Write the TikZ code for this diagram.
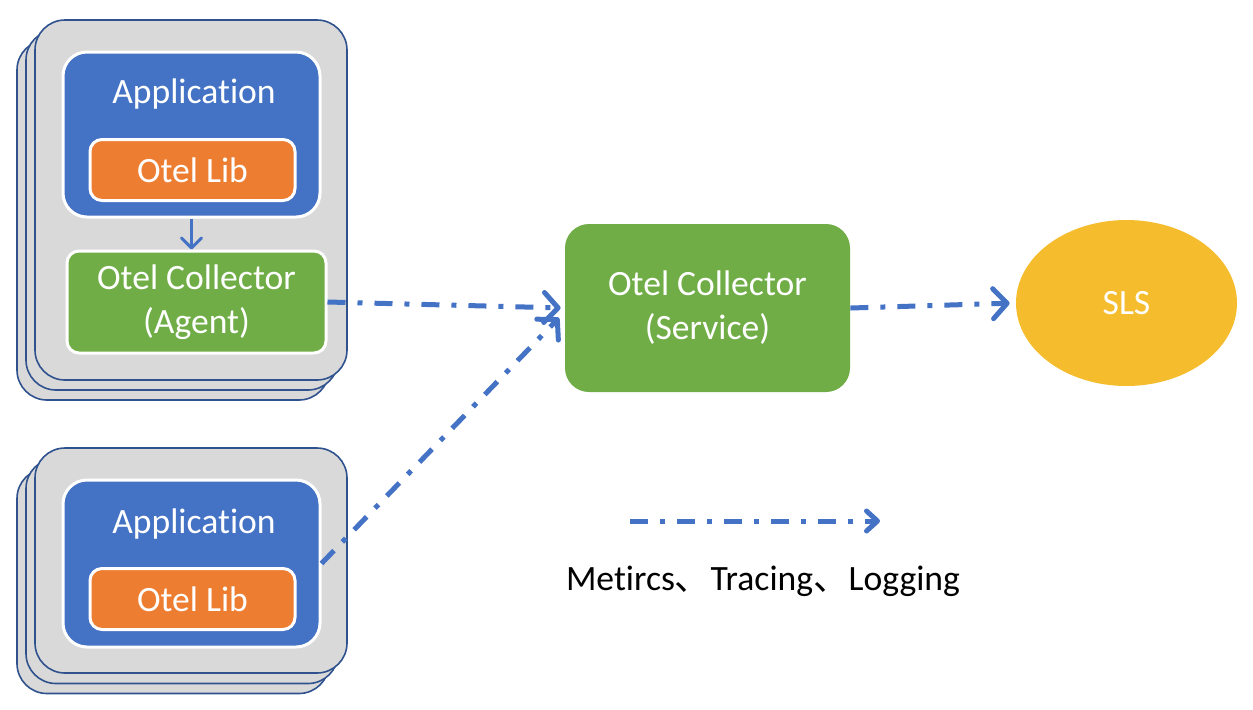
\documentclass[tikz,border=0pt]{standalone}
\usepackage{fontspec}
\setmainfont{Carlito}[Ligatures=NoCommon]
\newfontfamily\cjk{Noto Sans CJK SC}
\usetikzlibrary{arrows.meta,shapes.geometric}
\definecolor{appblue}{HTML}{4472C4}
\definecolor{cardedge}{HTML}{2F528F}
\definecolor{cardgray}{HTML}{D9D9D9}
\definecolor{liborange}{HTML}{ED7D31}
\definecolor{colgreen}{HTML}{70AD47}
\definecolor{slsyellow}{HTML}{F5BD2E}
\newcommand{\sep}{{\cjk 、}}

\begin{document}
\begin{tikzpicture}[x=0.5pt,y=-0.5pt,
  font=\fontsize{17.8}{22}\selectfont,
  card/.style={draw=cardedge,line width=0.8pt,fill=cardgray,rounded corners=15pt,minimum width=156pt,inner sep=0pt},
  appbox/.style={draw=white,line width=1.5pt,fill=appblue,rounded corners=12pt,minimum width=128.5pt,inner sep=0pt},
  libbox/.style={draw=white,line width=1.5pt,fill=liborange,rounded corners=6pt,minimum width=102.5pt,minimum height=30.5pt,text=white,inner sep=0pt},
  colbox/.style={fill=colgreen,text=white,align=center,inner sep=0pt},
  lab/.style={text=white,align=center},
  flow/.style={appblue,line width=2.5pt,dash pattern=on 9pt off 6pt on 2.5pt off 6pt,
    -{Straight Barb[length=7pt,width=15pt,round]}}]
  \useasboundingbox (0,0) rectangle (1253,709);
  \node[card,minimum height=180pt] (card1c) at (173,220) {};
  \node[card,minimum height=180pt] (card1b) at (182,210) {};
  \node[card,minimum height=180pt] (card1a) at (191,200) {};
  \node[appbox,minimum height=82.5pt] (app1) at (191.5,134.5) {};
  \node[lab] (app1t) at (194,94) {Application};
  \node[libbox] (lib1) at (192.5,170) {Otel Lib};
  \node[colbox,draw=white,line width=1.5pt,rounded corners=6pt,minimum width=129.5pt,minimum height=51pt] (agent) at (196.5,302) {Otel Collector\\(Agent)};
  \node[card,minimum height=112.5pt] (card2c) at (173,581) {};
  \node[card,minimum height=112.5pt] (card2b) at (182,571) {};
  \node[card,minimum height=112.5pt] (card2a) at (191,560.5) {};
  \node[appbox,minimum height=83.5pt] (app2) at (191.5,563.5) {};
  \node[lab] (app2t) at (194,524) {Application};
  \node[libbox] (lib2) at (192.5,599) {Otel Lib};
  \node[colbox,rounded corners=12pt,minimum width=142.5pt,minimum height=84pt] (serv) at (707.5,308) {Otel Collector\\(Service)};
  \node[ellipse,fill=slsyellow,text=white,minimum width=110.5pt,minimum height=83pt,inner sep=0pt] (sls) at (1126.5,303) {SLS};
  \draw[appblue,line width=1.5pt,-{Straight Barb[length=5pt,width=10pt,round]}] (app1.south) -- (app1.south |- agent.north);
  \draw[flow,shorten >=2pt] (agent.east) -- (serv.west);
  \draw[flow,shorten >=4pt] (app2.east) -- ([yshift=-2pt]serv.west);
  \draw[flow,shorten >=3pt] (serv.east) -- (sls.west);
  \coordinate (lgA) at (630,521);
  \coordinate (lgB) at (880,521);
  \draw[flow,-{Straight Barb[length=5.5pt,width=10pt,round]}] (lgA) -- (lgB);
  \node (legend) at (763,581) {Metircs\sep Tracing\sep Logging};
\end{tikzpicture}
\end{document}
